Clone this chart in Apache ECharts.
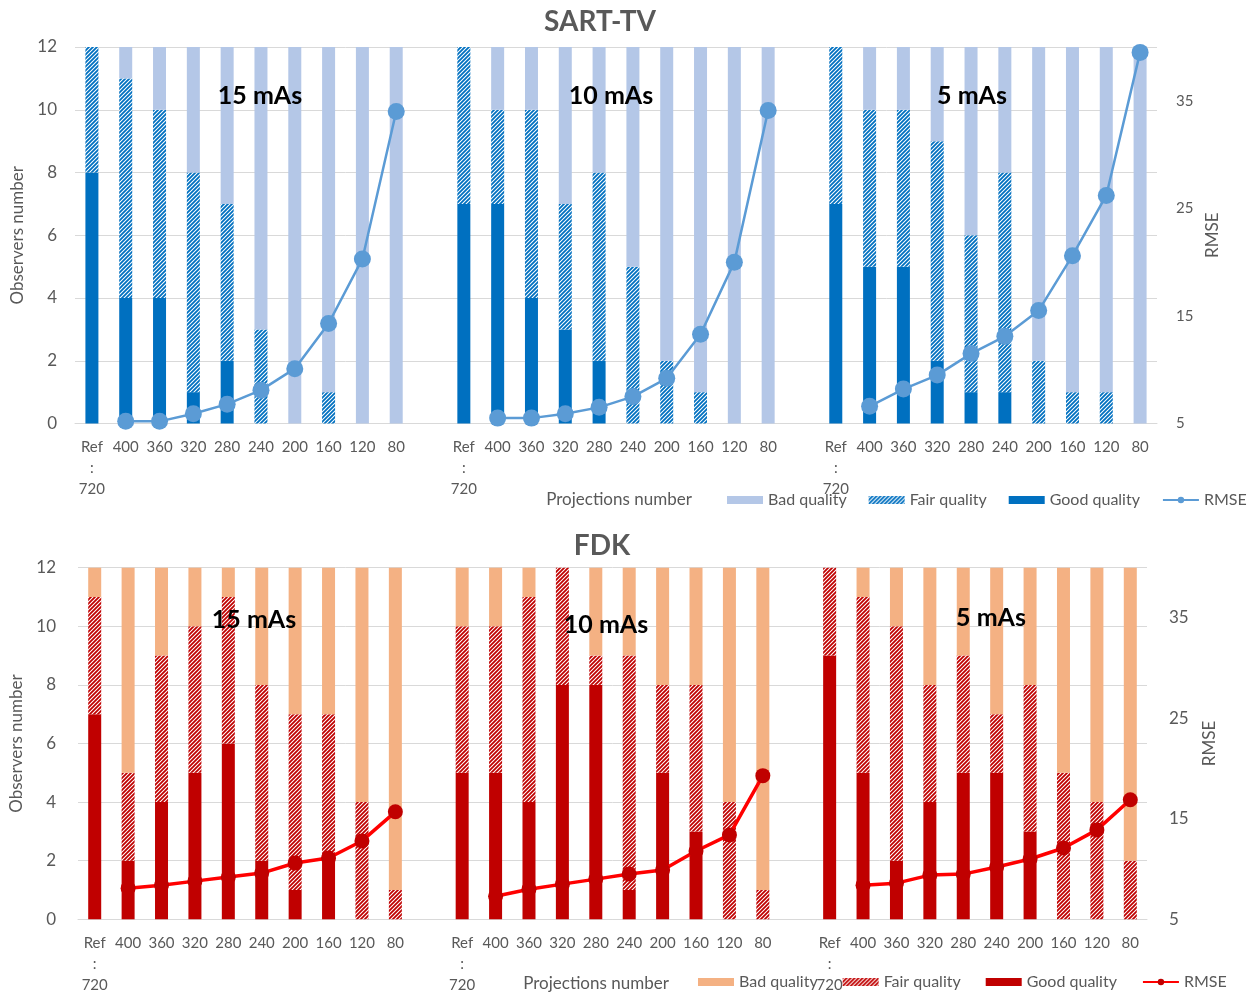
<!DOCTYPE html>
<html>
<head>
<meta charset="utf-8">
<script src="https://cdn.jsdelivr.net/npm/echarts@6/dist/echarts.min.js"></script>
<style>
  html, body { margin: 0; padding: 0; background: #ffffff; }
  #chart { width: 1250px; height: 996px; }
</style>
</head>
<body>
<div id="chart"></div>
<script>
// Projection counts per dose group (Ref = 720 projections)
const projections = ['Ref\n:\n720', '400', '360', '320', '280', '240', '200', '160', '120', '80'];
const doses = ['15 mAs', '10 mAs', '5 mAs'];

// SART-TV: observers per quality class, one row per dose
const sartGood = [
  [8, 4, 4, 1, 2, 0, 0, 0, 0, 0],
  [7, 7, 4, 3, 2, 0, 0, 0, 0, 0],
  [7, 5, 5, 2, 1, 1, 0, 0, 0, 0]
];
const sartFair = [
  [4, 7, 6, 7, 5, 3, 0, 1, 0, 0],
  [5, 3, 6, 4, 6, 5, 2, 1, 0, 0],
  [5, 5, 5, 7, 5, 7, 2, 1, 1, 0]
];
const sartBad = [
  [0, 1, 2, 4, 5, 9, 12, 11, 12, 12],
  [0, 2, 2, 5, 4, 7, 10, 11, 12, 12],
  [0, 2, 2, 3, 6, 4, 10, 11, 11, 12]
];
const sartRmse = [
  [null, 5.2, 5.2, 5.9, 6.8, 8.1, 10.1, 14.3, 20.3, 34.0],
  [null, 5.5, 5.5, 5.9, 6.5, 7.5, 9.2, 13.3, 20.0, 34.1],
  [null, 6.6, 8.2, 9.5, 11.5, 13.1, 15.5, 20.6, 26.2, 39.5]
];

// FDK: observers per quality class, one row per dose
const fdkGood = [
  [7, 2, 4, 5, 6, 2, 1, 2, 0, 0],
  [5, 5, 4, 8, 8, 1, 5, 3, 0, 0],
  [9, 5, 2, 4, 5, 5, 3, 0, 0, 0]
];
const fdkFair = [
  [4, 3, 5, 5, 5, 6, 6, 5, 4, 1],
  [5, 5, 7, 4, 1, 8, 3, 5, 4, 1],
  [3, 6, 8, 4, 4, 2, 5, 5, 4, 2]
];
const fdkBad = [
  [1, 7, 3, 2, 1, 4, 5, 5, 8, 11],
  [2, 2, 1, 0, 3, 3, 4, 4, 8, 11],
  [0, 1, 2, 4, 3, 5, 4, 7, 8, 10]
];
const fdkRmse = [
  [null, 8.1, 8.4, 8.8, 9.2, 9.6, 10.6, 11.1, 12.8, 15.7],
  [null, 7.3, 8.0, 8.5, 9.0, 9.5, 9.9, 11.8, 13.4, 19.3],
  [null, 8.4, 8.6, 9.4, 9.5, 10.2, 11.0, 12.1, 13.9, 16.9]
];

// Lay the three dose groups side by side with one empty slot between them
function joinGroups(rows, gap) {
  const out = [];
  rows.forEach((row, i) => {
    out.push(...row);
    if (i < rows.length - 1) out.push(gap);
  });
  return out;
}
const categories = joinGroups([projections, projections, projections], '');

// Diagonal hatching used for "Fair quality"
function hatch(color) {
  const c = document.createElement('canvas');
  const s = 4;
  c.width = s; c.height = s;
  const g = c.getContext('2d');
  g.fillStyle = '#ffffff';
  g.fillRect(0, 0, s, s);
  g.strokeStyle = color;
  g.lineWidth = 1.8;
  g.beginPath();
  g.moveTo(-1, s + 1); g.lineTo(s + 1, -1);
  g.moveTo(-1, 1); g.lineTo(1, -1);
  g.moveTo(s - 1, s + 1); g.lineTo(s + 1, s - 1);
  g.stroke();
  return { image: c, repeat: 'repeat' };
}

const FONT = 'Lato, "Open Sans", sans-serif';
const GREY = '#595959';
const GRID_LINE = '#D9D9D9';

const panels = [
  {
    title: 'SART-TV', prefix: '', stack: 'sart',
    good: sartGood, fair: sartFair, bad: sartBad, rmse: sartRmse,
    cGood: '#0070C0', cBad: '#B4C7E7', cLine: '#5B9BD5', cDot: '#5B9BD5',
    lineWidth: 2.5, dot: 17,
    grid: { left: 75, right: 93, top: 47, height: 376.5 },
    leftLabelMargin: 18, rightLabelMargin: 19, rightFont: 15,
    leftNameGap: 45, rightNameGap: 46,
    legend: { left: 727, top: 492, itemGap: 22 },
    xName: { x: 619, y: 500 },
    titlePos: { x: 600, y: 22 },
    dosePos: [[260, 96], [611, 96], [972, 96]]
  },
  {
    title: 'FDK', prefix: 'FDK ', stack: 'fdk',
    good: fdkGood, fair: fdkFair, bad: fdkBad, rmse: fdkRmse,
    cGood: '#C00000', cBad: '#F4B183', cLine: '#FF0000', cDot: '#C00000',
    lineWidth: 3.5, dot: 15,
    grid: { left: 78, right: 103, top: 567.7, height: 351.6 },
    leftLabelMargin: 22, rightLabelMargin: 22, rightFont: 17,
    leftNameGap: 52, rightNameGap: 54,
    legend: { left: 698, top: 974, itemGap: 25 },
    xName: { x: 596, y: 984 },
    titlePos: { x: 602, y: 546 },
    dosePos: [[254, 620], [606, 625], [991, 618]]
  }
];

const option = {
  animation: false,
  backgroundColor: '#ffffff',
  textStyle: { fontFamily: FONT },
  grid: [], xAxis: [], yAxis: [], series: [], legend: [], graphic: []
};

panels.forEach((p, k) => {
  option.grid.push(Object.assign({ containLabel: false }, p.grid));

  option.xAxis.push({
    type: 'category', gridIndex: k, data: categories,
    axisLine: { lineStyle: { color: GRID_LINE, width: 1 } },
    axisTick: { show: false },
    axisLabel: {
      interval: 0, color: GREY, fontSize: 15, fontFamily: FONT,
      lineHeight: 21, margin: 13
    }
  });

  option.yAxis.push({
    type: 'value', gridIndex: k, min: 0, max: 12, interval: 2,
    name: 'Observers number', nameLocation: 'middle', nameGap: p.leftNameGap,
    nameTextStyle: { color: GREY, fontSize: 17, fontFamily: FONT },
    axisLine: { show: false }, axisTick: { show: false },
    axisLabel: { color: GREY, fontSize: 17, fontFamily: FONT, margin: p.leftLabelMargin },
    splitLine: { lineStyle: { color: GRID_LINE, width: 1 } }
  });
  option.yAxis.push({
    type: 'value', gridIndex: k, position: 'right', min: 5, max: 40, interval: 10,
    name: 'RMSE', nameLocation: 'middle', nameGap: p.rightNameGap,
    nameTextStyle: { color: GREY, fontSize: 17, fontFamily: FONT },
    axisLine: { show: false }, axisTick: { show: false },
    axisLabel: {
      color: GREY, fontSize: p.rightFont, fontFamily: FONT, margin: p.rightLabelMargin,
      formatter: v => (v === 40 ? '' : String(v))
    },
    splitLine: { show: false }
  });

  const common = { type: 'bar', xAxisIndex: k, yAxisIndex: 2 * k, stack: p.stack, barWidth: 13 };
  option.series.push(Object.assign({}, common, {
    name: p.prefix + 'Good quality',
    itemStyle: { color: p.cGood },
    data: joinGroups(p.good, null)
  }));
  option.series.push(Object.assign({}, common, {
    name: p.prefix + 'Fair quality',
    itemStyle: { color: hatch(p.cGood) },
    data: joinGroups(p.fair, null)
  }));
  option.series.push(Object.assign({}, common, {
    name: p.prefix + 'Bad quality',
    itemStyle: { color: p.cBad },
    data: joinGroups(p.bad, null)
  }));
  option.series.push({
    type: 'line', name: p.prefix + 'RMSE', xAxisIndex: k, yAxisIndex: 2 * k + 1,
    connectNulls: false, symbol: 'circle', symbolSize: p.dot, z: 5,
    lineStyle: { color: p.cLine, width: p.lineWidth },
    itemStyle: { color: p.cDot },
    data: joinGroups(p.rmse, null)
  });

  option.legend.push({
    left: p.legend.left, top: p.legend.top, width: 1250 - p.legend.left,
    orient: 'horizontal', padding: 0,
    itemWidth: 36, itemHeight: 8, itemGap: p.legend.itemGap,
    selectedMode: false,
    textStyle: { color: GREY, fontSize: 16, fontFamily: FONT },
    formatter: n => n.replace(p.prefix, ''),
    data: [
      { name: p.prefix + 'Bad quality', icon: 'rect' },
      { name: p.prefix + 'Fair quality', icon: 'rect' },
      { name: p.prefix + 'Good quality', icon: 'rect' },
      { name: p.prefix + 'RMSE' }
    ]
  });

  option.graphic.push({
    type: 'text', x: p.titlePos.x, y: p.titlePos.y,
    style: { text: p.title, fill: GREY, font: 'bold 28px ' + FONT, align: 'center', verticalAlign: 'middle' }
  });
  option.graphic.push({
    type: 'text', x: p.xName.x, y: p.xName.y,
    style: { text: 'Projections number', fill: GREY, font: '17px ' + FONT, align: 'center', verticalAlign: 'middle' }
  });
  doses.forEach((d, i) => {
    option.graphic.push({
      type: 'text', x: p.dosePos[i][0], y: p.dosePos[i][1], z: 10,
      style: { text: d, fill: '#000000', font: 'bold 25px ' + FONT, align: 'center', verticalAlign: 'middle' }
    });
  });
});

const chart = echarts.init(document.getElementById('chart'), null, { renderer: 'canvas' });
chart.setOption(option);
</script>
</body>
</html>
